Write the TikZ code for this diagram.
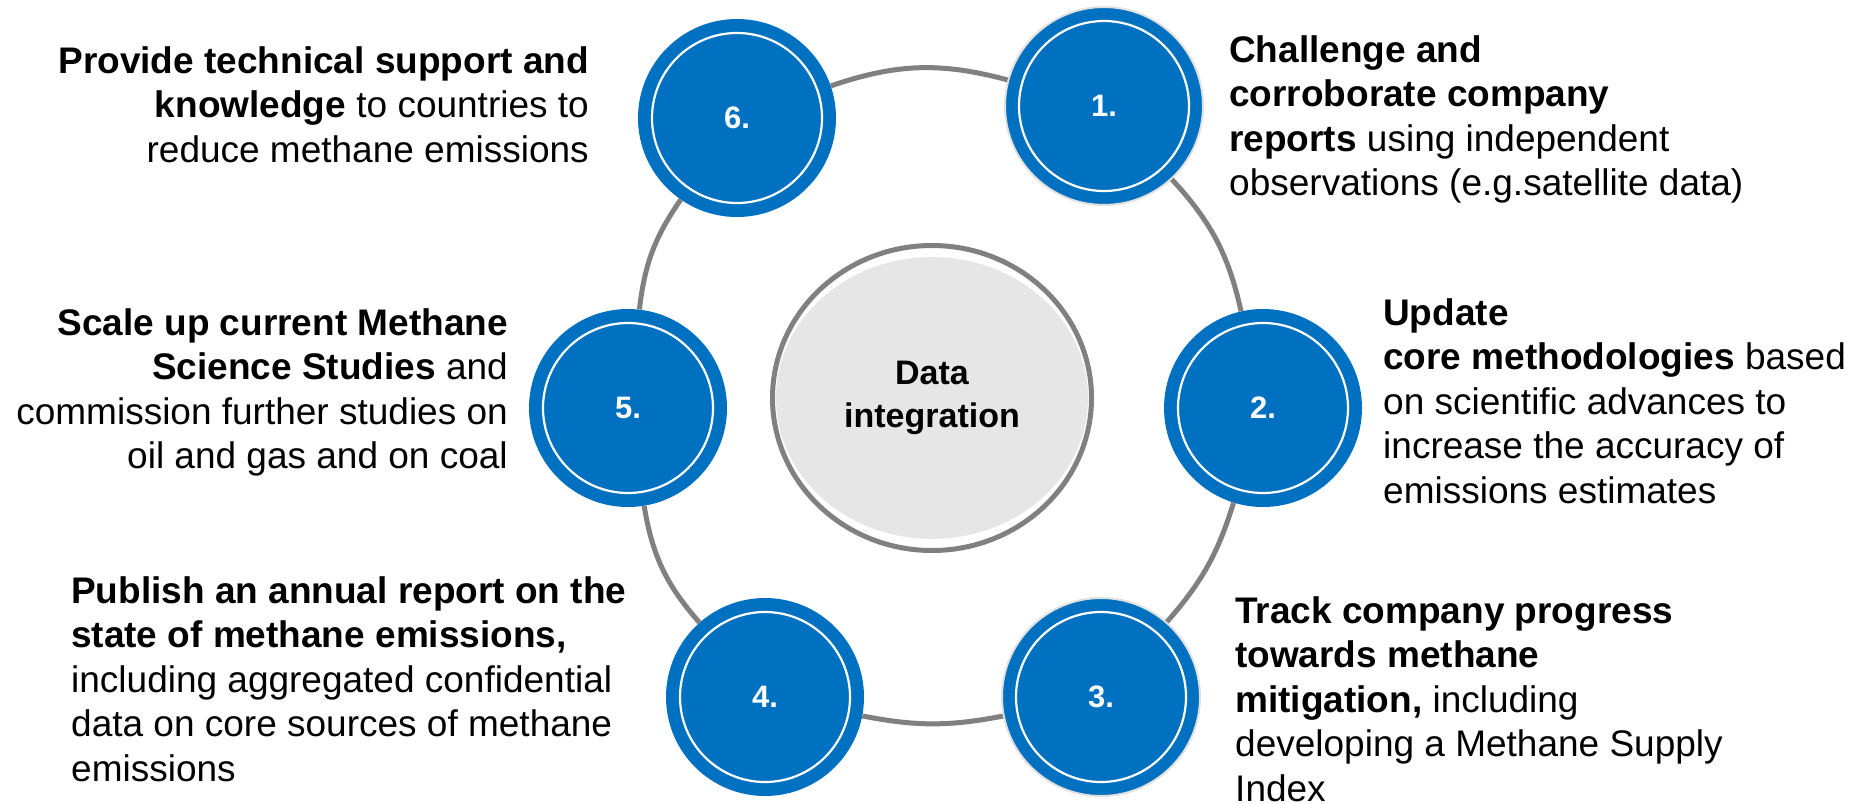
\documentclass[tikz,border=0pt]{standalone}
\usepackage{fontspec}
\setmainfont{Liberation Sans}
\usetikzlibrary{shapes.geometric}
\definecolor{stepblue}{RGB}{0,112,192}
\definecolor{ringgray}{RGB}{128,128,128}
\definecolor{hubfill}{RGB}{230,230,230}
\newcommand{\blurbfont}{\fontsize{37}{44.5}\selectfont}
\tikzset{x=1pt, y=-1pt,
         stepnode/.style={circle, fill=stepblue, minimum size=198pt, inner sep=0pt,
                          text=white, font=\fontsize{31}{36}\selectfont\bfseries,
                          path picture={\draw[white, line width=2.2pt]
                            (path picture bounding box.center) circle[radius=85pt];}},
         shadowed/.style={draw=black!12, line width=2pt},
         hub/.style={ellipse, draw=ringgray, line width=5pt, fill=white,
                     minimum width=319pt, minimum height=305pt, inner sep=0pt,
                     align=center, font=\fontsize{34}{43}\selectfont\bfseries,
                     path picture={\fill[hubfill] (path picture bounding box.center)
                       ellipse[x radius=156pt, y radius=141pt];}},
         ringline/.style={draw=ringgray, line width=5pt},
         blurb/.style={inner sep=0pt, anchor=base west},
         }

\begin{document}
\begin{tikzpicture}
    \useasboundingbox (0,0) rectangle (1867,803);

    % centre
    \node[hub] (hub) at (932,398) {Data\\integration};

    % the six steps
    \node[stepnode, shadowed] (c1) at (1104,106) {1.};
    \node[stepnode] (c2) at (1263,408) {2.};
    \node[stepnode, shadowed] (c3) at (1101,697) {3.};
    \node[stepnode] (c4) at (765,697) {4.};
    \node[stepnode] (c5) at (628,408) {5.};
    \node[stepnode] (c6) at (737,118) {6.};

    \draw[ringline] (c6) to[bend left=17] (c1)
                    (c1) to[bend left=15] (c2)
                    (c2) to[bend left=12] (c3)
                    (c3) to[bend left=11] (c4)
                    (c4) to[bend left=16] (c5)
                    (c5) to[bend left=14] (c6);

    % descriptions
    \node[blurb] (t1) at (1229,62) {\parbox[t]{560pt}{\raggedright\blurbfont
        \textbf{Challenge and\\ corroborate company\\ reports} using independent\\
        observations (e.g.satellite data)}};
    \node[blurb] (t2) at (1383,325) {\parbox[t]{480pt}{\raggedright\blurbfont
        \textbf{Update\\ core methodologies} based\\ on scientific advances to\\
        increase the accuracy of\\ emissions estimates}};
    \node[blurb] (t3) at (1235,623) {\parbox[t]{540pt}{\raggedright\blurbfont
        \textbf{Track company progress\\ towards methane\\ mitigation,} including\\
        developing a Methane Supply\\ Index}};
    \node[blurb] (t4) at (71,603) {\parbox[t]{600pt}{\raggedright\blurbfont
        \textbf{Publish an annual report on the\\ state of methane emissions,}\\
        including aggregated confidential\\ data on core sources of methane\\
        emissions}};
    \node[blurb, anchor=base east] (t5) at (508,335) {\parbox[t]{500pt}{\raggedleft\blurbfont
        \textbf{Scale up current Methane\\ Science Studies} and\\
        commission further studies on\\ oil and gas and on coal}};
    \node[blurb, anchor=base east] (t6) at (589,73) {\parbox[t]{580pt}{\raggedleft\blurbfont
        \textbf{Provide technical support and\\ knowledge} to countries to\\
        reduce methane emissions}};
\end{tikzpicture}
\end{document}
